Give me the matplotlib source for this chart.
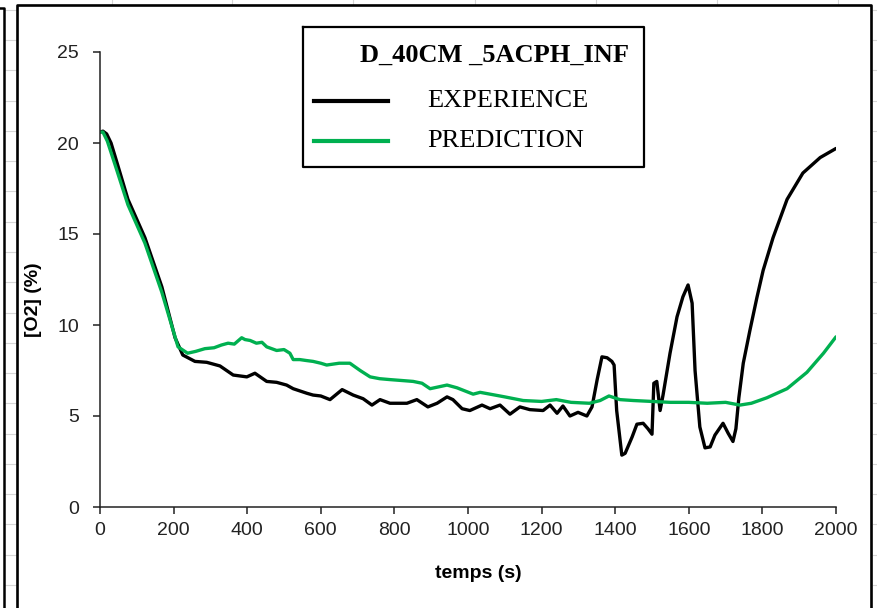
import matplotlib
matplotlib.use('Agg')
import matplotlib.pyplot as plt
from matplotlib.lines import Line2D

# --- data ---
t_exp = [0, 8, 18, 30, 45, 76, 122, 168, 204, 225, 258, 290, 326, 362, 399, 421, 453,
         480, 507, 525, 562, 579, 600, 625, 658, 688, 715, 739, 761, 788, 834,
         861, 891, 916, 943, 959, 984, 1005, 1038, 1060, 1087, 1114, 1141, 1168,
         1204, 1223, 1242, 1258, 1277, 1299, 1323, 1337, 1351, 1364, 1378, 1391,
         1397, 1404, 1418, 1427, 1446, 1459, 1476, 1489, 1500, 1505, 1513, 1522,
         1530, 1549, 1568, 1584, 1598, 1609, 1617, 1630, 1644, 1658, 1671, 1693,
         1707, 1720, 1728, 1736, 1748, 1766, 1785, 1802, 1829, 1867, 1910, 1957,
         2000]
o2_exp = [20.6, 20.65, 20.5, 20.0, 19.0, 16.9, 14.8, 12.1, 9.3, 8.35, 8.0, 7.95, 7.75, 7.25,
          7.15, 7.35, 6.9, 6.85, 6.7, 6.5, 6.25, 6.15, 6.1, 5.9, 6.45, 6.15, 5.95,
          5.6, 5.9, 5.7, 5.7, 5.9, 5.5, 5.7, 6.05, 5.9, 5.4, 5.3, 5.6, 5.4, 5.6,
          5.1, 5.5, 5.35, 5.3, 5.6, 5.15, 5.55, 5.0, 5.2, 5.0, 5.5, 7.0, 8.25,
          8.2, 8.0, 7.8, 5.3, 2.85, 2.95, 3.85, 4.55, 4.6, 4.3, 4.0, 6.8, 6.9,
          5.3, 6.15, 8.45, 10.45, 11.55, 12.2, 11.2, 7.5, 4.4, 3.25, 3.3, 3.95,
          4.6, 4.05, 3.6, 4.3, 6.0, 7.9, 9.7, 11.5, 13.0, 14.8, 16.9, 18.35,
          19.2, 19.7]

t_pred = [0, 8, 20, 41, 76, 122, 168, 212, 238, 260, 285, 310, 330, 348, 365, 385,
          394, 408, 425, 440, 453, 480, 500, 516, 525, 543, 560, 579, 600, 616,
          650, 679, 707, 734, 760, 788, 820, 851, 875, 897, 920, 943, 970, 1014,
          1033, 1060, 1100, 1150, 1200, 1240, 1280, 1330, 1359, 1383, 1413, 1450,
          1500, 1550, 1600, 1650, 1700, 1739, 1770, 1812, 1867, 1921, 1966, 2000]
o2_pred = [20.6, 20.6, 20.1, 18.8, 16.6, 14.5, 11.8, 8.8, 8.45, 8.55, 8.7, 8.75, 8.9,
           9.0, 8.95, 9.3, 9.2, 9.15, 9.0, 9.05, 8.8, 8.6, 8.65, 8.45, 8.1, 8.1,
           8.05, 8.0, 7.9, 7.8, 7.9, 7.9, 7.5, 7.15, 7.05, 7.0, 6.95, 6.9, 6.8,
           6.5, 6.6, 6.7, 6.55, 6.2, 6.3, 6.2, 6.05, 5.85, 5.8, 5.9, 5.75, 5.7,
           5.85, 6.1, 5.9, 5.85, 5.8, 5.75, 5.75, 5.7, 5.75, 5.6, 5.7, 6.0, 6.5,
           7.4, 8.45, 9.35]

x_ticks = [0, 200, 400, 600, 800, 1000, 1200, 1400, 1600, 1800, 2000]
y_ticks = [0, 5, 10, 15, 20, 25]

title = 'D_40CM _5ACPH_INF'
labels = ['EXPERIENCE', 'PREDICTION']
colors = ['black', '#00b050']

W, H = 877, 608


def fx(x):
    return x / W


def fy(y):
    return 1 - y / H


fig = plt.figure(figsize=(W / 100, H / 100), dpi=100)
fig.patch.set_facecolor('white')

# spreadsheet grid peeking around the chart
grey = '#d6d6d6'
for k in range(-1, 19):
    y = 40 + 30.28 * k
    fig.add_artist(Line2D([fx(5), fx(16)], [fy(y), fy(y)], color=grey, lw=0.8))
    fig.add_artist(Line2D([fx(873), fx(877)], [fy(y), fy(y)], color=grey, lw=0.8))
for x in [112, 232, 353, 475, 596, 717, 838]:
    fig.add_artist(Line2D([fx(x), fx(x)], [fy(0), fy(4)], color=grey, lw=0.8))

# neighbouring chart border and this chart's frame
fig.add_artist(Line2D([fx(0), fx(4), fx(4)], [fy(8), fy(8), fy(608)], color='black', lw=1.8))
fig.add_artist(Line2D([fx(17), fx(17), fx(871), fx(871)],
                      [fy(620), fy(5), fy(5), fy(620)], color='black', lw=1.9))

ax = fig.add_axes([fx(100), fy(507), fx(836) - fx(100), fy(52) - fy(507)])
ax.plot(t_exp, o2_exp, color=colors[0], lw=2.4,
        solid_joinstyle='round', solid_capstyle='round')
ax.plot(t_pred, o2_pred, color=colors[1], lw=2.4,
        solid_joinstyle='round', solid_capstyle='round')

ax.set_xlim(0, 2000)
ax.set_ylim(0, 25)
ax.set_xticks(x_ticks)
ax.set_yticks(y_ticks)
for s in ['top', 'right']:
    ax.spines[s].set_visible(False)
for s in ['left', 'bottom']:
    ax.spines[s].set_linewidth(1.1)
    ax.spines[s].set_color('#222222')
ax.tick_params(direction='out', length=5, width=1.1, color='#222222',
               labelsize=14, labelcolor='#222222')
ax.tick_params(axis='x', pad=6)
ax.tick_params(axis='y', pad=10)
for lab in ax.get_xticklabels() + ax.get_yticklabels():
    lab.set_family('Liberation Sans')

fig.text(fx(478), fy(574), 'temps (s)', ha='center', va='center',
         family='Liberation Sans', weight='bold', fontsize=14)
fig.text(fx(33), fy(300), '[O2] (%)', ha='center', va='center', rotation=90,
         family='Liberation Sans', weight='bold', fontsize=14)

# legend box
fig.add_artist(Line2D([fx(303), fx(644), fx(644), fx(303), fx(303)],
                      [fy(27), fy(27), fy(167), fy(167), fy(27)], color='black', lw=1.6))
fig.text(fx(494), fy(55), title, ha='center', va='center',
         family='Liberation Serif', weight='bold', fontsize=19)
for i, (lab, c) in enumerate(zip(labels, colors)):
    yy = 101 + 40 * i
    fig.add_artist(Line2D([fx(314), fx(388)], [fy(yy), fy(yy)], color=c, lw=3))
    fig.text(fx(427), fy(yy), lab, ha='left', va='center',
             family='Liberation Serif', fontsize=19)

fig.savefig('out.png', dpi=100)
